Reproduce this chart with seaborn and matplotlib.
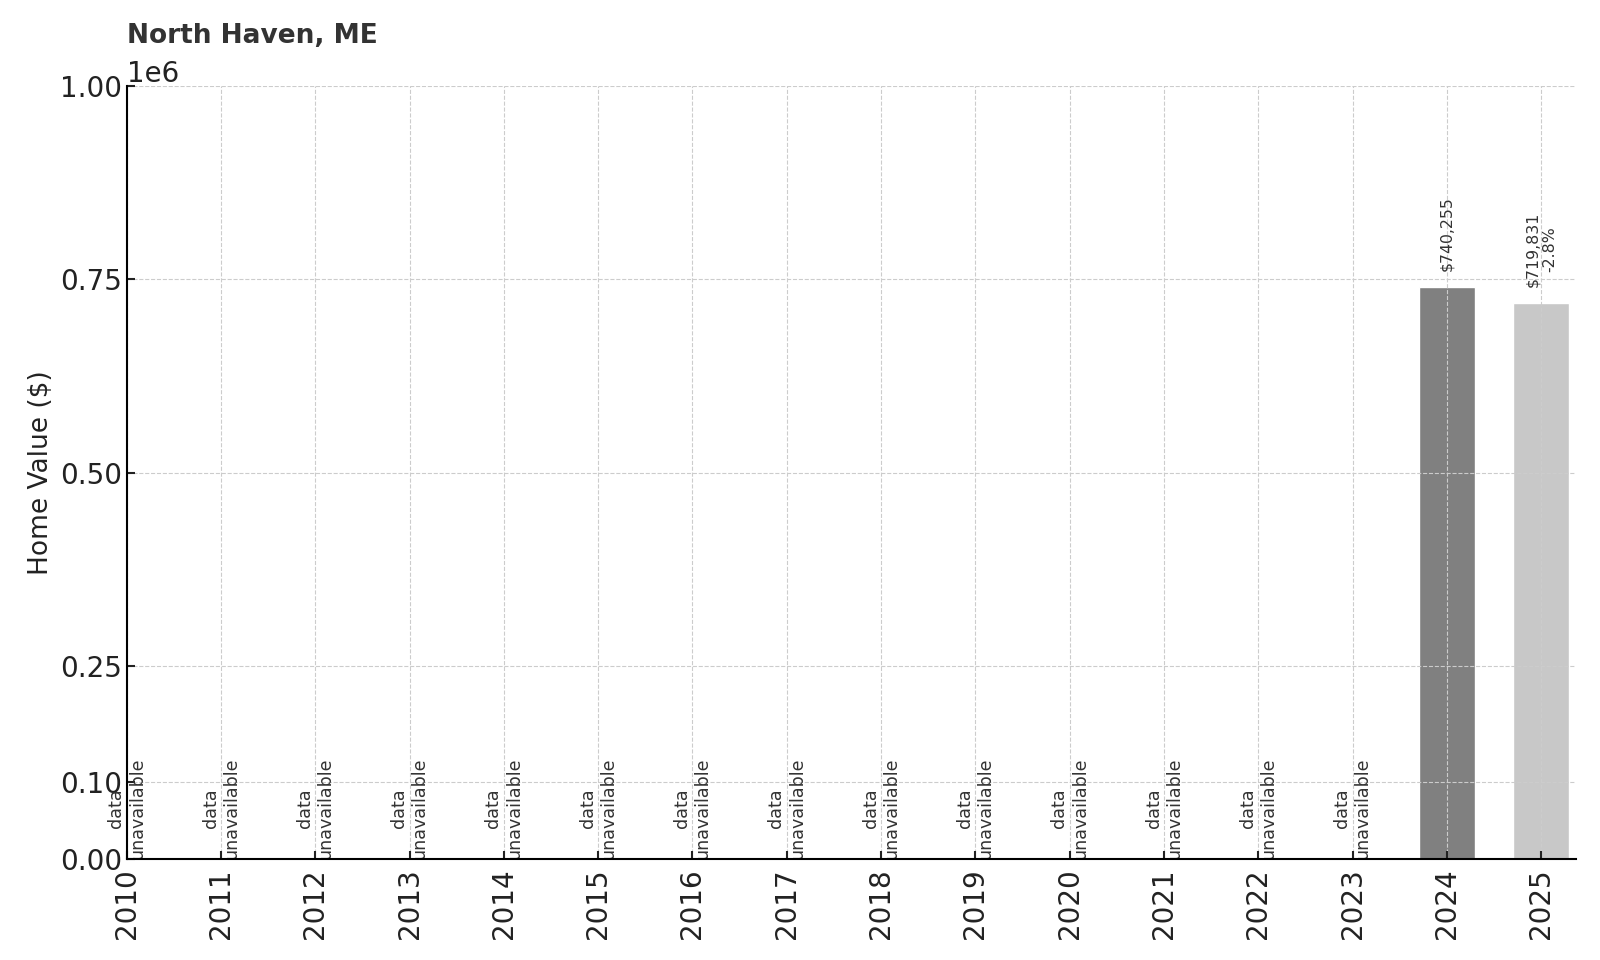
import numpy as np
import pandas as pd
import matplotlib
matplotlib.use("Agg")
import matplotlib.pyplot as plt
import seaborn as sns

# Data
years = list(range(2010, 2026))
home_values = [None] * 14 + [740255, 719831]
change_labels = [None] * 15 + ["-2.8%"]
bar_colors = ["#808080", "#c8c8c8"]

sns.set_theme(style="ticks")
plt.rcParams["font.family"] = ["DejaVu Sans"]
plt.rcParams["axes.axisbelow"] = False

df = pd.DataFrame({"year": years, "value": home_values})
avail = df.dropna().copy()
avail["year_label"] = avail["year"].astype(str)

fig = plt.figure(figsize=(16, 9.6), dpi=100)
ax = fig.add_axes([0.0792, 0.1052, 0.9058, 0.8052])

sns.barplot(data=avail, x="year", y="value", hue="year_label",
            palette=bar_colors, native_scale=True, width=0.6,
            legend=False, ax=ax, saturation=1)

ax.set_xlim(2010, 2025.37)
ax.set_ylim(0, 1e6)
ax.set_xticks(years)
ax.set_xticklabels([str(y) for y in years], rotation=90)
ax.set_yticks([0, 0.1e6, 0.25e6, 0.5e6, 0.75e6, 1e6])
ax.tick_params(axis="both", labelsize=20, direction="in", length=6,
               width=1.5, colors="#222222")
ax.tick_params(axis="x", pad=7)
ax.yaxis.get_offset_text().set_fontsize(20)

ax.grid(True, linestyle="--", color="#cccccc", linewidth=0.8)
for s in ["top", "right"]:
    ax.spines[s].set_visible(False)
for s in ["left", "bottom"]:
    ax.spines[s].set_linewidth(1.5)
    ax.spines[s].set_color("black")
    ax.spines[s].set_zorder(5)

# Labels on bars / missing years
for yr, val, chg in zip(years, home_values, change_labels):
    if val is None:
        ax.text(yr, 0, "data\nunavailable", rotation=90, ha="center",
                va="bottom", fontsize=12.6, color="#333333")
    else:
        txt = f"${val:,.0f}"
        if chg is not None:
            txt += "\n" + chg
        ax.text(yr, val + 20000, txt, rotation=90, ha="center",
                va="bottom", fontsize=11.3, color="#333333")

ax.set_xlabel("")
ax.set_ylabel("Home Value ($)", fontsize=19, color="#222222")
ax.set_title("North Haven, ME", loc="left", fontsize=19,
             fontweight="bold", color="#333333", pad=12)

fig.savefig("out.png", dpi=100)
